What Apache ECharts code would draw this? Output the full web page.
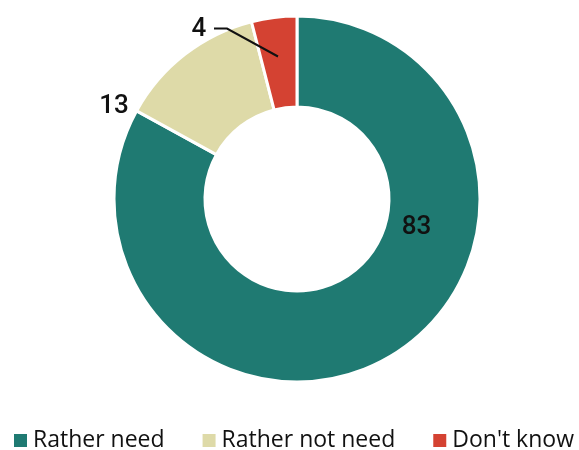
<!DOCTYPE html>
<html><head><meta charset="utf-8">
<script src="https://cdn.jsdelivr.net/npm/echarts@6/dist/echarts.min.js"></script>
<style>html,body{margin:0;padding:0;background:#fff}#c{width:579px;height:450px}</style>
</head><body><div id="c"></div>
<script>
const categories = ['Rather need', 'Rather not need', "Don't know"];
const values = [83, 13, 4];
const colors = ['#1f7a72', '#dedaa8', '#d44232'];
const labelSpots = [[416.5, 227.5], [114, 106], [199, 29]];

const chart = echarts.init(document.getElementById('c'));
chart.setOption({
  animation: false,
  color: colors,
  legend: {
    left: 12, top: 429, width: 620, padding: 0,
    itemWidth: 15, itemHeight: 15, itemGap: 36,
    icon: 'rect',
    textStyle: { fontFamily: 'Open Sans', fontSize: 23, color: '#111' },
    data: categories
  },
  series: [{
    type: 'pie',
    center: [297, 199],
    radius: [92, 183],
    startAngle: 90,
    clockwise: true,
    silent: true,
    itemStyle: { borderColor: '#fff', borderWidth: 3 },
    label: { show: false },
    labelLine: { show: false },
    data: categories.map((n, i) => ({ name: n, value: values[i] }))
  }, {
    type: 'pie',
    z: 5,
    center: [297, 199],
    radius: [92, 183],
    startAngle: 90,
    clockwise: true,
    silent: true,
    itemStyle: { color: 'rgba(0,0,0,0)', borderWidth: 0 },
    label: {
      show: true, formatter: '{c}',
      fontFamily: 'Roboto', fontSize: 26, fontWeight: 500, color: '#111'
    },
    labelLine: { show: false },
    labelLayout: function (p) {
      const s = labelSpots[p.dataIndex];
      const r = { x: s[0], y: s[1], align: 'center', verticalAlign: 'middle' };
      if (p.dataIndex === 2) {
        r.labelLinePoints = [[278, 56.5], [227, 28.5], [214, 28.5]];
      }
      return r;
    },
    data: categories.map((n, i) => ({
      name: n, value: values[i],
      labelLine: i === 2 ? { show: true, showAbove: true, lineStyle: { color: '#111', width: 2, opacity: 1 } } : { show: false }
    }))
  }]
});
</script></body></html>
